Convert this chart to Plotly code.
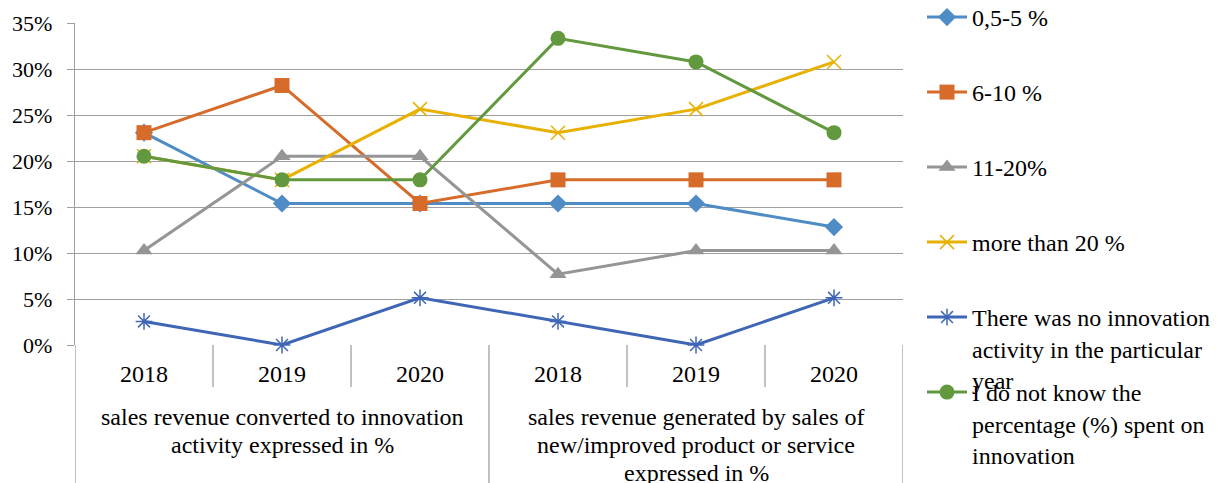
import plotly.graph_objects as go

# Categories: two groups, three years each
years = ["2018", "2019", "2020", "2018", "2019", "2020"]
groups = [
    ["sales revenue converted to innovation", "activity expressed in %"],
    ["sales revenue generated by sales of", "new/improved product or service", "expressed in %"],
]

# Share of respondents (%) per answer
s_05_5 = [23.08, 15.38, 15.38, 15.38, 15.38, 12.82]
s_6_10 = [23.08, 28.21, 15.38, 17.95, 17.95, 17.95]
s_11_20 = [10.26, 20.51, 20.51, 7.69, 10.26, 10.26]
s_gt20 = [20.51, 17.95, 25.64, 23.08, 25.64, 30.77]
s_none = [2.56, 0.0, 5.13, 2.56, 0.0, 5.13]
s_unknown = [20.51, 17.95, 17.95, 33.33, 30.77, 23.08]

names = [
    "0,5-5 %",
    "6-10 %",
    "11-20%",
    "more than 20 %",
    "There was no innovation<br>activity in the particular<br>year",
    "I do not know the<br>percentage (%) spent on<br>innovation",
]

FONT = "Times New Roman"
FS = 24

series = [
    (s_05_5, "#4F8CC6", dict(symbol="diamond", size=14)),
    (s_6_10, "#D66B2A", dict(symbol="square", size=15)),
    (s_11_20, "#959595", dict(symbol="triangle-up", size=15)),
    (s_gt20, "#E8B000", dict(symbol="x-thin-open", size=14, line=dict(width=1.5, color="#E8B000"))),
    (s_none, "#3F66B6", dict(symbol="asterisk-open", size=14, line=dict(width=1.5, color="#3F66B6"))),
    (s_unknown, "#62993E", dict(symbol="circle", size=15)),
]

xs = list(range(len(years)))
fig = go.Figure()

W, H = 1217, 483
L, R, T, B = 75, 314, 23, 138
PW, PH = W - L - R, H - T - B
# top edge of each legend block, px from the top of the page
legend_top_px = [-5, 70, 145, 220, 295, 370]

for i, ((vals, color, mk), name) in enumerate(zip(series, names)):
    mk = dict(mk)
    mk.setdefault("color", color)
    lg = "legend" if i == 0 else f"legend{i + 1}"
    fig.add_trace(go.Scatter(
        x=xs, y=vals, name=name, mode="lines+markers",
        line=dict(color=color, width=3),
        marker=mk,
        legend=lg,
        cliponaxis=False,
    ))

legend_common = dict(
    xref="paper", yref="paper", xanchor="left", yanchor="top",
    font=dict(family=FONT, size=FS, color="black"),
    bgcolor="rgba(0,0,0,0)", borderwidth=0, valign="top",
    itemwidth=40, tracegroupgap=0,
)
for i, top in enumerate(legend_top_px):
    key = "legend" if i == 0 else f"legend{i + 1}"
    fig.update_layout({key: dict(legend_common, x=(922 - L) / PW, y=1 + (T - top) / PH)})

GRID = "#A0A0A0"

# Category separators below the axis
shapes = []
for k in range(7):
    xpos = k - 0.5
    full = k in (0, 3, 6)
    shapes.append(dict(
        type="line", xref="x", yref="paper",
        x0=xpos, x1=xpos, y0=0, y1=-(B if full else 42) / PH,
        line=dict(color=GRID, width=1.3),
    ))

# Group captions, one line each, 28 px apart
annotations = []
for g, lines in enumerate(groups):
    for j, line in enumerate(lines):
        yc = 417 + 28 * j
        annotations.append(dict(
            x=3 * g + 1, xref="x", y=-(yc - 345) / PH, yref="paper",
            text=line, showarrow=False, yanchor="middle", xanchor="center",
            font=dict(family=FONT, size=FS, color="black"),
        ))

fig.update_layout(
    width=W, height=H,
    margin=dict(l=L, r=R, t=T, b=B, pad=0, autoexpand=False),
    paper_bgcolor="white", plot_bgcolor="white",
    showlegend=True,
    shapes=shapes, annotations=annotations,
    xaxis=dict(
        range=[-0.5, 5.5], tickmode="array", tickvals=xs, ticktext=years,
        showgrid=False, zeroline=False, showline=False, ticks="",
        tickfont=dict(family=FONT, size=FS, color="black"), ticklabelstandoff=12,
    ),
    yaxis=dict(
        range=[0, 35], dtick=5, ticksuffix="%",
        showgrid=True, gridcolor=GRID, gridwidth=1.3,
        zeroline=False, showline=True, linecolor=GRID, linewidth=1.3,
        ticks="outside", ticklen=7, tickcolor=GRID, tickwidth=1.3,
        tickfont=dict(family=FONT, size=22, color="black"), ticklabelstandoff=10,
    ),
)

fig.write_html("out.html")
